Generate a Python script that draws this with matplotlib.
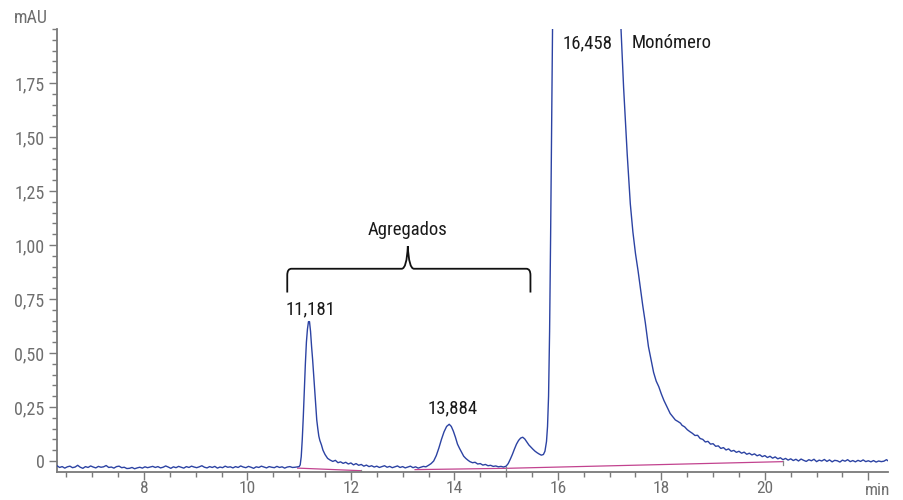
import numpy as np
import matplotlib
matplotlib.use("Agg")
import matplotlib.pyplot as plt
from matplotlib import font_manager
from matplotlib.path import Path
from matplotlib.patches import PathPatch

# ---------------- data ----------------
base_t = [6.32 + 0.05 * k for k in range(94)]
base_y = [-0.022,-0.030,-0.026,-0.033,-0.027,-0.024,-0.031,-0.028,-0.020,-0.029,
          -0.034,-0.026,-0.030,-0.023,-0.028,-0.032,-0.025,-0.029,-0.027,-0.021,
          -0.030,-0.028,-0.033,-0.026,-0.024,-0.031,-0.029,-0.035,-0.034,-0.030,
          -0.036,-0.032,-0.029,-0.033,-0.027,-0.031,-0.028,-0.025,-0.030,-0.026,
          -0.032,-0.029,-0.023,-0.028,-0.034,-0.027,-0.031,-0.025,-0.029,-0.033,
          -0.026,-0.030,-0.024,-0.028,-0.031,-0.027,-0.022,-0.029,-0.032,-0.026,
          -0.030,-0.025,-0.033,-0.028,-0.031,-0.024,-0.029,-0.027,-0.032,-0.026,
          -0.030,-0.023,-0.028,-0.031,-0.025,-0.029,-0.034,-0.027,-0.030,-0.024,
          -0.028,-0.032,-0.026,-0.029,-0.031,-0.025,-0.030,-0.027,-0.033,-0.028,
          -0.026,-0.030,-0.029,-0.027]

peak1_t = [11.00,11.02,11.04,11.06,11.08,11.10,11.12,11.14,11.16,11.18,11.20,11.22,
           11.24,11.26,11.28,11.30,11.32,11.34,11.36,11.38,11.40,11.43,11.46,11.50,11.55]
peak1_y = [-0.026,-0.018,0.020,0.100,0.205,0.330,0.450,0.550,0.610,0.645,0.645,0.600,
           0.530,0.470,0.400,0.330,0.260,0.190,0.150,0.115,0.095,0.075,0.050,0.030,0.012]

tail1_t = [11.60,11.65,11.70,11.75,11.80,11.85,11.90,11.95,12.00,12.05,12.10,12.15,12.20,
           12.25,12.30,12.35,12.40,12.45,12.50,12.55,12.60,12.65,12.70,12.75,12.80,12.85,
           12.90,12.95,13.00,13.05,13.10,13.15,13.20,13.25,13.30,13.35,13.40,13.45,13.50]
tail1_y = [0.004,-0.002,0.003,-0.008,-0.004,-0.011,-0.006,-0.014,-0.009,-0.018,-0.012,-0.020,
           -0.016,-0.024,-0.019,-0.026,-0.022,-0.028,-0.024,-0.030,-0.026,-0.022,-0.029,-0.025,
           -0.031,-0.027,-0.023,-0.030,-0.026,-0.032,-0.028,-0.024,-0.031,-0.027,-0.033,-0.029,
           -0.025,-0.027,-0.020]

peak2_t = [13.55,13.60,13.65,13.70,13.75,13.80,13.85,13.90,13.94,13.98,14.02,14.06,14.10,
           14.14,14.18,14.22,14.26,14.30,14.35,14.40,14.45,14.50,14.55,14.60,14.65,14.70,
           14.75,14.80,14.85,14.90,14.95,15.00]
peak2_y = [-0.012,0.000,0.025,0.060,0.100,0.135,0.160,0.170,0.160,0.138,0.110,0.078,0.058,
           0.040,0.022,0.012,0.004,-0.003,-0.008,-0.006,-0.014,-0.012,-0.019,-0.016,-0.022,
           -0.020,-0.025,-0.023,-0.027,-0.025,-0.028,-0.024]

peak3_t = [15.04,15.08,15.12,15.16,15.20,15.24,15.28,15.32,15.36,15.40,15.44,15.48,15.52,
           15.56,15.60,15.64,15.68,15.72,15.75,15.78,15.80,15.82,15.84,15.86,15.88,15.90,
           15.95,16.10,16.30,16.46,16.70,17.00,17.15]
peak3_y = [-0.012,0.008,0.030,0.055,0.078,0.095,0.106,0.110,0.102,0.088,0.074,0.064,0.054,
           0.045,0.038,0.032,0.027,0.030,0.045,0.090,0.160,0.300,0.600,1.050,1.550,2.100,
           3.000,3.500,3.800,3.900,3.600,2.900,2.300]

desc_t = [17.22,17.27,17.34,17.40,17.45,17.50,17.55,17.59,17.64,17.69,17.75,17.80,17.85,
          17.90,17.95,18.00,18.05,18.10,18.17,18.22,18.27,18.32,18.37]
desc_y = [2.000,1.730,1.420,1.190,1.060,0.960,0.880,0.810,0.720,0.640,0.530,0.470,0.410,
          0.370,0.344,0.310,0.280,0.255,0.220,0.205,0.190,0.183,0.175]

tail2_t = [18.40,18.45,18.50,18.55,18.60,18.65,18.70,18.75,18.80,18.85,18.90,18.95,19.00,
           19.05,19.10,19.15,19.20,19.25,19.30,19.35,19.40,19.45,19.50,19.55,19.60,19.65,
           19.70,19.75,19.80,19.85,19.90,19.95,20.00,20.05,20.10,20.15,20.20,20.25,20.30,
           20.35,20.40,20.45,20.50,20.55,20.60,20.65,20.70,20.75,20.80,20.85,20.90,20.95,
           21.00,21.05,21.10,21.15,21.20,21.25,21.30,21.35,21.40,21.45,21.50,21.55,21.60,
           21.65,21.70,21.75,21.80,21.85,21.90,21.95,22.00,22.05,22.10,22.15,22.20,22.25,
           22.30,22.35,22.38]
tail2_y = [0.165,0.158,0.145,0.136,0.128,0.118,0.119,0.104,0.100,0.088,0.091,0.078,0.080,
           0.068,0.070,0.058,0.062,0.051,0.056,0.045,0.049,0.040,0.045,0.036,0.041,0.031,
           0.036,0.028,0.033,0.024,0.029,0.020,0.025,0.016,0.022,0.013,0.019,0.010,0.015,
           0.006,0.012,0.004,0.010,0.002,0.008,0.000,0.009,0.003,-0.002,0.006,0.001,0.008,
           -0.003,0.004,0.000,0.007,-0.002,0.005,-0.004,0.003,0.001,-0.005,0.004,-0.001,0.006,
           -0.003,0.002,-0.004,0.003,-0.002,0.005,-0.003,0.001,-0.004,0.002,-0.005,0.000,-0.003,
           -0.001,0.006,0.001]

signal_t = base_t + peak1_t + tail1_t + peak2_t + peak3_t + desc_t + tail2_t
signal_y = base_y + peak1_y + tail1_y + peak2_y + peak3_y + desc_y + tail2_y

# integration baselines (start t, start y, end t, end y)
bl_t0 = [10.97, 13.24, 15.00]
bl_y0 = [-0.033, -0.040, -0.034]
bl_t1 = [12.20, 15.00, 20.35]
bl_y1 = [-0.045, -0.034, -0.003]
event_t = [12.20, 15.00, 20.35]
event_y = [-0.045, -0.034, -0.003]

peak_labels = ["11,181", "13,884", "16,458"]
peak_label_t = [11.23, 13.96, 16.57]
peak_label_y = [0.70, 0.245, 1.935]

xticks = [8, 10, 12, 14, 16, 18, 20, 22]
xtick_labels = ["8", "10", "12", "14", "16", "18", "20", ""]
yticks = [0, 0.25, 0.5, 0.75, 1.0, 1.25, 1.5, 1.75]
ytick_labels = ["0", "0,25", "0,50", "0,75", "1,00", "1,25", "1,50", "1,75"]

# ---------------- style ----------------
names = {f.name for f in font_manager.fontManager.ttflist}
fam = "DejaVu Sans"
for cand in ["Roboto Condensed", "Liberation Sans Narrow", "Open Sans Condensed", "Roboto"]:
    if cand in names:
        fam = cand
        break
plt.rcParams["font.family"] = [fam, "DejaVu Sans"]

gray = "#6e6e6e"
blue = "#2c43a3"
magenta = "#c2438f"
fs_tick = 13
fs_xtick = 12.5
fs_ann = 13.5

fig = plt.figure(figsize=(9.04, 5.0), dpi=100)
ax = fig.add_axes([57/904, 1-472/500, (888-57)/904, (472-29)/500])

ax.plot(signal_t, signal_y, color=blue, lw=1.0, zorder=3)
for t0, y0, t1, y1 in zip(bl_t0, bl_y0, bl_t1, bl_y1):
    ax.plot([t0, t1], [y0, y1], color=magenta, lw=0.9, zorder=2)
for t, y in zip(event_t, event_y):
    ax.plot([t, t], [y - 0.015, y + 0.005], color="#888888", lw=0.9, zorder=2)

ax.set_xlim(6.32, 22.38)
ax.set_ylim(-0.051, 2.0)

for s in ["top", "right"]:
    ax.spines[s].set_visible(False)
for s in ["left", "bottom"]:
    ax.spines[s].set_color("#7a7a7a")
    ax.spines[s].set_linewidth(1.3)

ax.set_xticks(xticks)
ax.set_xticklabels(xtick_labels)
ax.set_xticks(np.arange(6.5, 22.4, 0.5), minor=True)
ax.set_yticks(yticks)
ax.set_yticklabels(ytick_labels)
ax.set_yticks(np.arange(0, 2.001, 0.05), minor=True)
ax.tick_params(which="major", length=6, width=1.0, color="#7a7a7a", labelcolor=gray)
ax.tick_params(axis="y", which="major", labelsize=fs_tick, pad=3)
ax.tick_params(axis="x", which="major", labelsize=fs_xtick, pad=0.5)
ax.tick_params(which="minor", length=3.5, width=1.0, color="#7a7a7a")

fig.text(48/904, 1-18/500, "mAU", ha="right", va="center", color=gray, fontsize=fs_tick)
ax.text(1.003, -0.024, "min", transform=ax.transAxes, ha="right", va="top",
        color=gray, fontsize=fs_xtick)

for lab, t, y in zip(peak_labels, peak_label_t, peak_label_y):
    ax.text(t, y, lab, ha="center", va="center", color="#1a1a1a", fontsize=fs_ann)
ax.text(632/904, 1-43/500, "Monómero", transform=fig.transFigure, ha="left", va="center",
        color="#1a1a1a", fontsize=fs_ann)
ax.text(13.1, 1.07, "Agregados", ha="center", va="center", color="#1a1a1a", fontsize=fs_ann)

# curly brace
L, R, M = 10.77, 15.47, 13.10
yb, yh, yp = 0.78, 0.89, 0.995
verts = [(L, yb), (L, yh - 0.03), (L, yh), (L + 0.08, yh),
         (M - 0.12, yh), (M - 0.02, yh), (M, yp),
         (M + 0.02, yh), (M + 0.12, yh),
         (R - 0.08, yh), (R, yh), (R, yh - 0.03), (R, yb)]
codes = [Path.MOVETO, Path.LINETO, Path.CURVE3, Path.CURVE3,
         Path.LINETO, Path.CURVE3, Path.CURVE3,
         Path.CURVE3, Path.CURVE3,
         Path.LINETO, Path.CURVE3, Path.CURVE3, Path.LINETO]
ax.add_patch(PathPatch(Path(verts, codes), fill=False, lw=1.3, color="#111111"))

fig.savefig("out.png", dpi=100)
